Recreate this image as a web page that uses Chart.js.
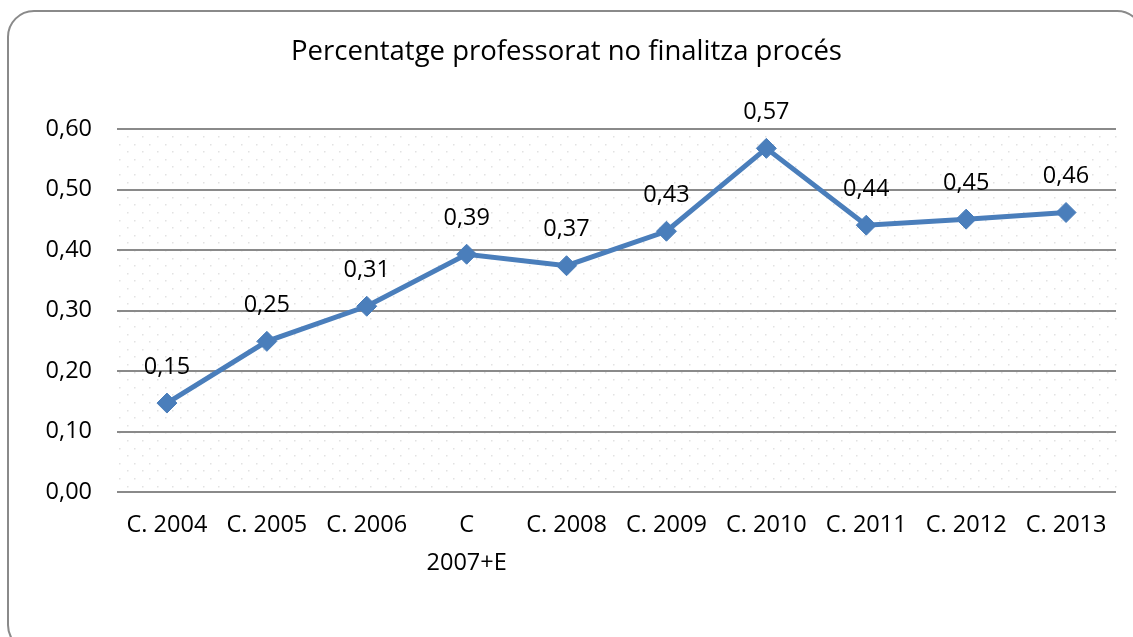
<!DOCTYPE html>
<html>
<head>
<meta charset="utf-8">
<script src="https://cdn.jsdelivr.net/npm/chart.js@4/dist/chart.umd.min.js"></script>
<style>
html,body{margin:0;padding:0;background:#fff;}
#wrap{width:1133px;height:637px;position:relative;}
</style>
</head>
<body>
<div id="wrap"><canvas id="c" width="1133" height="637"></canvas></div>
<script>
const categories = ['C. 2004','C. 2005','C. 2006',['C','2007+E'],'C. 2008','C. 2009','C. 2010','C. 2011','C. 2012','C. 2013'];
const values = [0.147, 0.249, 0.307, 0.393, 0.374, 0.431, 0.568, 0.441, 0.451, 0.462];
const yTicks = [0, 0.1, 0.2, 0.3, 0.4, 0.5, 0.6];
const titleText = 'Percentatge professorat no finalitza procés';

const FONT = "'Open Sans', 'Noto Sans', sans-serif";
const fmt = v => v.toFixed(2).replace('.', ',');

const backgroundPlugin = {
  id: 'bg',
  beforeDraw(chart) {
    const ctx = chart.ctx;
    const a = chart.chartArea;
    ctx.save();
    // outer rounded frame
    ctx.strokeStyle = '#8a8a8a';
    ctx.lineWidth = 2;
    ctx.beginPath();
    ctx.roundRect(8, 11, 1135, 640, 26);
    ctx.stroke();
    // dotted plot background
    ctx.fillStyle = '#e2e2e2';
    let row = 0;
    for (let y = a.top + 7; y < a.bottom; y += 7.6, row++) {
      const off = (row % 2) ? 0 : 7.6;
      for (let x = a.left + 2 + off; x < a.right; x += 15.2) {
        ctx.fillRect(Math.round(x), Math.round(y), 1.5, 1.5);
      }
    }
    ctx.restore();
  }
};

const labelPlugin = {
  id: 'vlabels',
  afterDatasetsDraw(chart) {
    const ctx = chart.ctx;
    const meta = chart.getDatasetMeta(0);
    ctx.save();
    ctx.font = "23.5px " + FONT;
    ctx.fillStyle = '#000';
    ctx.textAlign = 'center';
    ctx.textBaseline = 'middle';
    meta.data.forEach((pt, i) => {
      ctx.fillText(fmt(values[i]), pt.x, pt.y - 36);
    });
    ctx.restore();
  }
};

new Chart(document.getElementById('c'), {
  type: 'line',
  data: {
    labels: categories,
    datasets: [{
      data: values,
      borderColor: '#4A7EBB',
      backgroundColor: '#4A7EBB',
      borderWidth: 5,
      pointStyle: 'rectRot',
      pointRadius: 10,
      pointHoverRadius: 10,
      pointBorderWidth: 1,
      pointBackgroundColor: '#4A7EBB',
      pointBorderColor: '#4A7EBB',
      tension: 0,
      clip: false
    }]
  },
  options: {
    responsive: false,
    animation: false,
    events: [],
    layout: { padding: { left: 17, right: 17, top: 0, bottom: 0 } },
    plugins: {
      legend: { display: false },
      tooltip: { enabled: false },
      title: {
        display: true,
        text: titleText,
        color: '#000',
        font: { family: FONT, size: 27.5, weight: 'normal', lineHeight: 1.2 },
        padding: { top: 36, bottom: 60 }
      }
    },
    scales: {
      x: {
        offset: true,
        grid: { display: false, drawTicks: false },
        border: { display: false },
        ticks: {
          color: '#000',
          padding: 14,
          maxRotation: 0,
          autoSkip: false,
          font: { family: FONT, size: 23.5, lineHeight: 1.62 }
        },
        afterFit(scale) { scale.height = 145; }
      },
      y: {
        min: 0,
        max: 0.6,
        afterBuildTicks(scale) { scale.ticks = yTicks.map(v => ({ value: v })); },
        grid: { color: '#8a8a8a', lineWidth: 2, drawTicks: false },
        border: { display: false },
        ticks: {
          color: '#000',
          padding: 25,
          font: { family: FONT, size: 23.5 },
          callback: v => fmt(v)
        },
        afterFit(scale) { scale.width = 100; }
      }
    }
  },
  plugins: [backgroundPlugin, labelPlugin]
});
</script>
</body>
</html>
